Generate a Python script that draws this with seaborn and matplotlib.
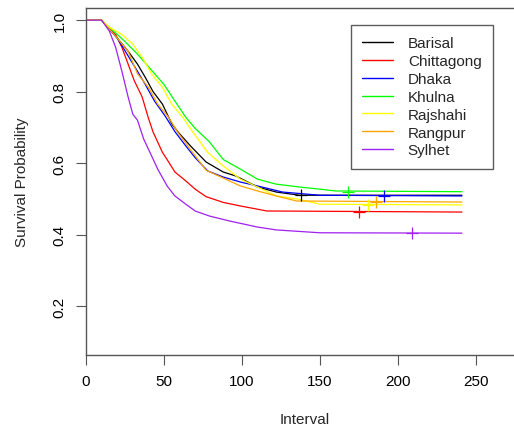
import matplotlib
matplotlib.use("Agg")
import matplotlib.pyplot as plt
import pandas as pd
import seaborn as sns

# Kaplan-Meier curves (time, survival)
barisal_t = [0, 10, 15, 20, 27, 33, 38, 43, 49, 55, 59, 67, 77, 88, 96, 110, 122, 137, 241]
barisal_s = [1, 1, 0.975, 0.95, 0.913, 0.877, 0.84, 0.80, 0.765, 0.71, 0.687, 0.648, 0.603, 0.575, 0.564, 0.533, 0.519, 0.51, 0.51]
chittagong_t = [0, 10, 15, 19, 23, 27, 31, 36, 40, 43, 49, 53, 57, 64, 70, 77, 88, 99, 116, 241]
chittagong_s = [1, 1, 0.975, 0.96, 0.924, 0.877, 0.83, 0.785, 0.726, 0.687, 0.63, 0.603, 0.575, 0.55, 0.527, 0.506, 0.49, 0.48, 0.466, 0.463]
dhaka_t = [0, 10, 15, 20, 27, 33, 38, 44, 51, 57, 64, 70, 78, 88, 99, 110, 126, 150, 241]
dhaka_s = [1, 1, 0.975, 0.95, 0.90, 0.857, 0.82, 0.773, 0.73, 0.688, 0.648, 0.615, 0.578, 0.561, 0.547, 0.536, 0.519, 0.51, 0.508]
khulna_t = [0, 10, 15, 20, 25, 33, 42, 50, 56, 64, 70, 79, 88, 99, 110, 122, 137, 150, 160, 241]
khulna_s = [1, 1, 0.98, 0.96, 0.94, 0.905, 0.86, 0.82, 0.78, 0.728, 0.697, 0.66, 0.61, 0.583, 0.555, 0.541, 0.533, 0.527, 0.522, 0.52]
rajshahi_t = [0, 10, 15, 23, 30, 36, 42, 49, 55, 62, 68, 78, 88, 99, 110, 122, 135, 150, 241]
rajshahi_s = [1, 1, 0.98, 0.96, 0.933, 0.896, 0.85, 0.812, 0.765, 0.728, 0.69, 0.63, 0.592, 0.555, 0.533, 0.508, 0.5, 0.485, 0.483]
rangpur_t = [0, 10, 15, 20, 27, 33, 40, 46, 53, 59, 68, 77, 88, 99, 110, 122, 135, 241]
rangpur_s = [1, 1, 0.975, 0.95, 0.913, 0.85, 0.812, 0.765, 0.728, 0.685, 0.632, 0.58, 0.558, 0.536, 0.522, 0.508, 0.494, 0.491]
sylhet_t = [0, 10, 15, 19, 23, 27, 30, 33, 37, 41, 46, 52, 57, 64, 70, 79, 92, 110, 122, 150, 241]
sylhet_s = [1, 1, 0.969, 0.924, 0.857, 0.785, 0.737, 0.72, 0.667, 0.63, 0.583, 0.536, 0.508, 0.485, 0.466, 0.452, 0.438, 0.421, 0.413, 0.405, 0.404]

regions = ['Barisal', 'Chittagong', 'Dhaka', 'Khulna', 'Rajshahi', 'Rangpur', 'Sylhet']
times = [barisal_t, chittagong_t, dhaka_t, khulna_t, rajshahi_t, rangpur_t, sylhet_t]
surv = [barisal_s, chittagong_s, dhaka_s, khulna_s, rajshahi_s, rangpur_s, sylhet_s]
censor_t = [138, 175, 191, 168, 181, 186, 209]
censor_s = [0.51, 0.463, 0.508, 0.52, 0.483, 0.491, 0.404]
colors = ['black', '#FF0000', '#0000FF', '#00FF00', '#FFFF00', '#FFA500', '#A020F0']

rows = []
for r, t, s in zip(regions, times, surv):
    for a, b in zip(t, s):
        rows.append((r, a, b))
df = pd.DataFrame(rows, columns=['region', 'Interval', 'surv'])
cens = pd.DataFrame({'region': regions, 'Interval': censor_t, 'surv': censor_s})

sns.set_style('white')
plt.rcParams['font.family'] = ['Liberation Sans', 'DejaVu Sans']
plt.rcParams['font.size'] = 11

fig = plt.figure(figsize=(5.14, 4.27), dpi=100)
ax = fig.add_axes([86 / 514, 1 - 356 / 427, 438 / 514, 347 / 427])
pal = dict(zip(regions, colors))
sns.lineplot(data=df, x='Interval', y='surv', hue='region', palette=pal,
             estimator=None, sort=False, linewidth=0.9, ax=ax, legend=False)
for r, c in zip(regions, colors):
    sub = cens[cens.region == r]
    ax.scatter(sub['Interval'], sub['surv'], marker='+', s=70, color=c, linewidths=0.9, zorder=3)

ax.set_xlim(0, 280.8)
ax.set_ylim(0.063, 1.034)
ax.set_xticks([0, 50, 100, 150, 200, 250])
ax.set_yticks([0.2, 0.4, 0.6, 0.8, 1.0])
ax.set_yticklabels(['0.2', '0.4', '0.6', '0.8', '1.0'], rotation=90, va='center')
ax.tick_params(bottom=True, left=True, direction='out', length=7, width=0.8,
               color='#555555', labelcolor='black', pad=7, labelsize=11)
for side in ['left', 'bottom', 'top']:
    ax.spines[side].set_color('#555555')
    ax.spines[side].set_linewidth(1.0)
ax.spines['right'].set_visible(False)
ax.set_xlabel('Interval', fontsize=11, labelpad=17)
ax.set_ylabel('Survival Probability', fontsize=11, labelpad=17)

handles = [plt.Line2D([], [], color=c, linewidth=1.0) for c in colors]
leg = fig.legend(handles, regions, loc='upper right', bbox_to_anchor=(493 / 514, 1 - 26 / 427),
                 frameon=True, fancybox=False, shadow=False, fontsize=11, handlelength=2.0,
                 labelspacing=0.25, borderpad=0.75, handletextpad=1.0, borderaxespad=0)
leg.get_frame().set_edgecolor('#333333')
leg.get_frame().set_linewidth(1.0)

fig.savefig('out.png', dpi=100)
